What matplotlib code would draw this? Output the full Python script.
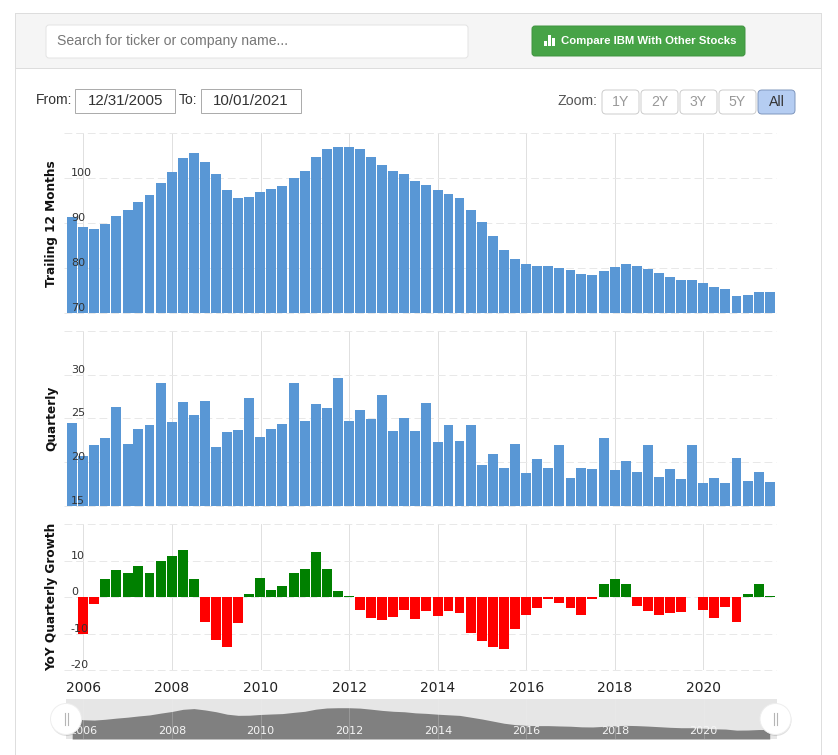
import numpy as np
import pandas as pd
import matplotlib
matplotlib.use('Agg')
import matplotlib.pyplot as plt
from matplotlib.patches import Circle, FancyBboxPatch, Rectangle

W, H = 838, 755

# quarter ends, the last one is the june 2021 report
quarters = pd.date_range('2005-09-30', periods=64, freq='QE')

trailing = [91.4, 89.2, 88.7, 89.9, 91.6, 93.0, 94.8, 96.3, 99.0, 101.4, 104.6, 105.7, 103.7, 101.0, 97.4, 95.7,
            95.9, 97.0, 97.7, 98.3, 100.1, 101.7, 104.8, 106.6, 107.0, 107.0, 106.4, 104.8, 103.0, 101.7, 101.0, 99.4,
            98.6, 97.4, 96.5, 95.65, 93.0, 90.3, 87.2, 84.05, 82.0, 80.9, 80.5, 80.5, 80.0, 79.6, 78.7, 78.5,
            79.4, 80.3, 80.9, 80.5, 79.8, 78.9, 78.0, 77.4, 77.4, 76.7, 75.8, 75.4, 73.8, 74.0, 74.7, 74.7]

quarterly = [24.5, 20.7, 22.0, 22.7, 26.35, 22.1, 23.8, 24.2, 29.0, 24.6, 26.9, 25.4, 27.0, 21.75, 23.4, 23.7,
             27.3, 22.9, 23.8, 24.4, 29.1, 24.7, 26.7, 26.2, 29.6, 24.7, 25.9, 24.9, 27.7, 23.5, 25.0, 23.5,
             26.8, 22.3, 24.2, 22.4, 24.2, 19.7, 20.9, 19.3, 22.1, 18.8, 20.4, 19.3, 21.9, 18.2, 19.3, 19.2,
             22.7, 19.1, 20.1, 18.9, 21.9, 18.3, 19.2, 18.1, 21.9, 17.6, 18.2, 17.6, 20.5, 17.8, 18.9, 17.7]

# first quarter has no year ago value
growth = [np.nan, -10.1, -1.9, 5.0, 7.4, 6.6, 8.5, 6.6, 9.9, 11.3, 12.9, 5.0, -6.8, -11.7, -13.6, -7.1,
          0.9, 5.2, 2.0, 3.1, 6.6, 7.7, 12.4, 7.7, 1.7, 0.3, -3.5, -5.7, -6.2, -5.4, -3.5, -6.0,
          -3.8, -5.15, -3.8, -4.3, -9.8, -12.0, -13.6, -14.2, -8.7, -4.9, -3.0, -0.5, -1.6, -3.0, -4.9, -0.4,
          3.6, 5.0, 3.6, -2.4, -3.8, -4.9, -4.3, -4.1, 0.15, -3.5, -5.7, -2.7, -6.8, 0.9, 3.6, 0.3]

years = [2006, 2008, 2010, 2012, 2014, 2016, 2018, 2020]
zoom_buttons = ['1Y', '2Y', '3Y', '5Y', 'All']

year_ticks = [pd.Timestamp(f'{y}-01-01') for y in years]
year_labels = [str(y) for y in years]

BLUE = '#5997d5'
GREEN = '#008000'
RED = '#ff0000'
GRID = '#e8e8e8'
LINE = '#e0e0e0'
UI_FONT = 'Liberation Sans'
CHART_FONT = 'DejaVu Sans'
BAR_DAYS = 82


def px_axes(left, top, right, bottom):
    return fig.add_axes([left / W, 1 - bottom / H, (right - left) / W, (bottom - top) / H])


def bar_panel(top, bottom, values, colors, ylim, yticks, title):
    ax = px_axes(64, top, 776, bottom)
    ax.set_xlim(pd.Timestamp('2005-07-25'), pd.Timestamp('2021-08-22'))
    ax.set_ylim(*ylim)
    for year in year_ticks:
        ax.axvline(year, color=LINE, lw=0.7, zorder=0)
    for tick in yticks + [ylim[1]]:
        ax.axhline(tick, color=GRID, lw=0.7, dashes=(8, 4), zorder=0, clip_on=False)
    ax.bar(quarters, values, width=BAR_DAYS, color=colors, zorder=1)
    for s in ax.spines.values():
        s.set_visible(False)
    ax.set_yticks(yticks)
    ax.tick_params(axis='y', length=0, pad=-5, labelsize=8, labelcolor='#333333')
    for lab in ax.get_yticklabels():
        lab.set_ha('left')
        lab.set_va('bottom')
    ax.set_xticks(year_ticks)
    ax.set_xticklabels([])
    ax.tick_params(axis='x', length=0)
    ax.set_ylabel(title, fontsize=8.7, fontweight='bold', color='#111111')
    ax.yaxis.set_label_coords(-0.0085, 0.5)
    return ax


plt.rcParams['font.family'] = CHART_FONT
plt.rcParams['axes.unicode_minus'] = False
fig = plt.figure(figsize=(W / 100, H / 100), dpi=100, facecolor='white')

ax1 = bar_panel(133.3, 313, trailing, BLUE, (70, 110), [70, 80, 90, 100], 'Trailing 12 Months')
ax2 = bar_panel(331, 505.7, quarterly, BLUE, (15, 35), [15, 20, 25, 30], 'Quarterly')
growth_colors = [GREEN if g > 0 else RED for g in growth]
ax3 = bar_panel(524, 670.3, growth, growth_colors, (-20, 20), [-20, -10, 0, 10], 'YoY Quarterly Growth')
ax3.set_xticklabels(year_labels)
ax3.tick_params(axis='x', labelsize=10, pad=7.5, labelcolor='#222222')

# navigator strip under the charts
nav = px_axes(66, 699, 777, 739)
nav.set_facecolor('#e6e6e6')
nav.set_xlim(pd.Timestamp('2005-08-10'), pd.Timestamp('2021-08-29'))
nav.set_ylim(60.7, 119.9)
nav.fill_between(quarters, trailing, 60.7, color='#808080', lw=0, zorder=1)
for year in year_ticks:
    nav.axvline(year, color='#f4f4f4', lw=0.6, alpha=0.25, zorder=2)
nav.set_yticks([])
nav.set_xticks(year_ticks)
nav.set_xticklabels(year_labels)
nav.tick_params(axis='x', length=0, pad=-9.5, labelsize=8, labelcolor='#f5f5f5')
for s in nav.spines.values():
    s.set_visible(False)

# page furniture on top, in pixel coordinates
ui = fig.add_axes([0, 0, 1, 1], zorder=10)
ui.set_xlim(0, W)
ui.set_ylim(H, 0)
ui.axis('off')
ui.patch.set_alpha(0)


def box(x0, y0, x1, y1, face, edge, rad=3, lw=0.7):
    ui.add_patch(FancyBboxPatch((x0 + rad, y0 + rad), x1 - x0 - 2 * rad, y1 - y0 - 2 * rad,
                                boxstyle=f'round,pad={rad},rounding_size={rad}',
                                fc=face, ec=edge, lw=lw))


ui.add_patch(Rectangle((15, 13), 806, 55, fc='#f5f5f5', ec='#dddddd', lw=0.7))
ui.plot([15, 15], [13, H], color='#dddddd', lw=0.7)
ui.plot([821, 821], [13, H], color='#dddddd', lw=0.7)

box(46, 25, 468, 58, 'white', '#e3e3e3')
ui.text(57, 41.5, 'Search for ticker or company name...', family=UI_FONT, fontsize=10.1, color='#777777',
        va='center')

box(532, 26, 745, 56, '#47a347', '#3f933f')
for bx, bh in zip([544, 548, 552], [5, 11, 8]):
    ui.add_patch(Rectangle((bx, 46 - bh), 3, bh, fc='white', lw=0))
ui.text(560.5, 41, 'Compare IBM With Other Stocks', family=UI_FONT, fontsize=8.2, fontweight='bold',
        color='white', va='center')

ui.text(36, 100.5, 'From:', family=UI_FONT, fontsize=10, color='#333333', va='center')
ui.text(179, 100.5, 'To:', family=UI_FONT, fontsize=10, color='#333333', va='center')
ui.add_patch(Rectangle((75, 89), 100, 24, fc='white', ec='#aaaaaa', lw=0.7))
ui.add_patch(Rectangle((201, 89), 100, 24, fc='white', ec='#aaaaaa', lw=0.7))
ui.text(125.5, 101, '12/31/2005', family=UI_FONT, fontsize=10.8, color='#333333', ha='center', va='center')
ui.text(251, 101, '10/01/2021', family=UI_FONT, fontsize=10.8, color='#333333', ha='center', va='center')

ui.text(557, 101, 'Zoom:', family=UI_FONT, fontsize=10.2, color='#555555', va='center')
for i, name in enumerate(zoom_buttons):
    x0 = 602 + i * 39
    active = name == 'All'
    box(x0, 90, x0 + 37, 114, '#b5cdf2' if active else 'white', '#7f96bd' if active else '#cccccc', rad=4)
    ui.text(x0 + 18.5, 102, name, family=UI_FONT, fontsize=10.2, color='#333333' if active else '#999999',
            ha='center', va='center')

for hx in [66, 775.5]:
    ui.add_patch(Circle((hx + 0.5, 720.5), 15.5, fc='#000000', alpha=0.12, lw=0))
    ui.add_patch(Circle((hx, 719), 15.5, fc='white', ec='#eeeeee', lw=0.7))
    ui.plot([hx - 1.5, hx - 1.5], [713, 725], color='#b5b5b5', lw=0.8)
    ui.plot([hx + 1.5, hx + 1.5], [713, 725], color='#b5b5b5', lw=0.8)

fig.savefig('out.png', dpi=100)
